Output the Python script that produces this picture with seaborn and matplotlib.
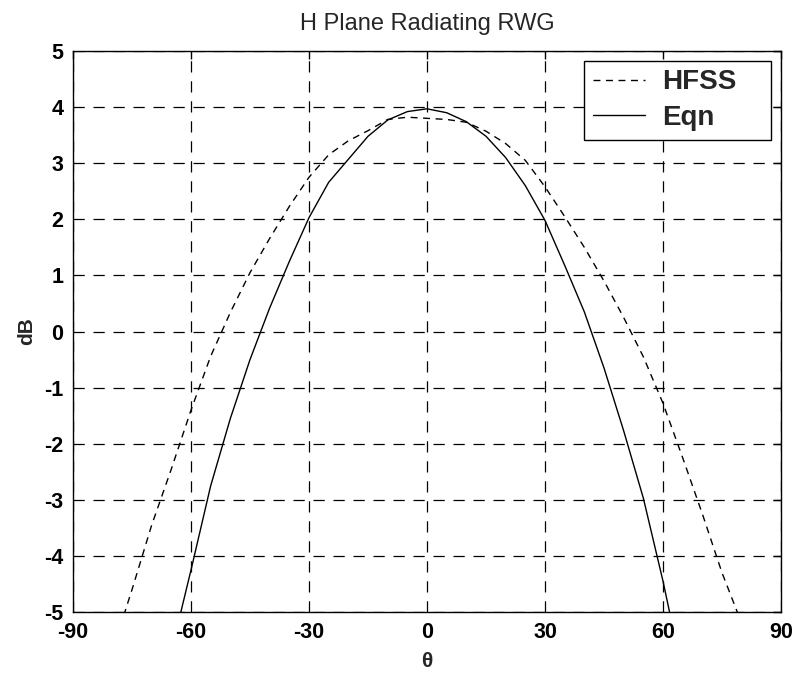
import numpy as np
import matplotlib
matplotlib.use("Agg")
import matplotlib.pyplot as plt
import pandas as pd
import seaborn as sns

# values (theta in degrees, gain in dB)
theta_hfss = [-80, -75, -70, -65, -60, -55, -50, -45, -40, -35, -30, -25, -20, -15, -10, -5,
              0, 5, 10, 15, 20, 25, 30, 35, 40, 45, 50, 55, 60, 65, 70, 75, 80]
db_hfss = [-5.7, -4.6, -3.45, -2.45, -1.4, -0.44, 0.34, 1.05, 1.66, 2.23, 2.75, 3.15, 3.4, 3.58, 3.78, 3.82,
           3.8, 3.78, 3.73, 3.57, 3.35, 3.05, 2.58, 2.05, 1.5, 0.9, 0.25, -0.45, -1.28, -2.25, -3.25, -4.3, -5.2]

theta_eqn = [-65, -60, -55, -50, -45, -40, -35, -30, -25, -20, -15, -10, -5,
             0, 5, 10, 15, 20, 25, 30, 35, 40, 45, 50, 55, 60, 65]
db_eqn = [-5.7, -4.25, -2.75, -1.55, -0.5, 0.42, 1.25, 2.03, 2.66, 3.07, 3.48, 3.77, 3.92,
          3.97, 3.9, 3.74, 3.48, 3.1, 2.6, 1.98, 1.18, 0.35, -0.65, -1.77, -2.97, -4.45, -6.1]

x_ticks = [-90, -60, -30, 0, 30, 60, 90]
y_ticks = [-5, -4, -3, -2, -1, 0, 1, 2, 3, 4, 5]

df_hfss = pd.DataFrame({'theta': theta_hfss, 'dB': db_hfss})
df_eqn = pd.DataFrame({'theta': theta_eqn, 'dB': db_eqn})

sns.set_style('white')
plt.rcParams['font.family'] = ['Liberation Sans', 'DejaVu Sans']
plt.rcParams['axes.unicode_minus'] = False

fig = plt.figure(figsize=(7.98, 6.73), dpi=100)
ax = fig.add_axes([0.0915, 0.0906, 0.8872, 0.8336])

sns.lineplot(data=df_hfss, x='theta', y='dB', ax=ax, color='black', lw=1.0,
             linestyle=(0, (5, 4)), label='HFSS', sort=False)
sns.lineplot(data=df_eqn, x='theta', y='dB', ax=ax, color='black', lw=1.0,
             linestyle='-', label='Eqn', sort=False)

ax.set_xlim(-90, 90)
ax.set_ylim(-5, 5)
ax.set_xticks(x_ticks)
ax.set_yticks(y_ticks)
ax.grid(True, color='black', linestyle=(0, (9, 7)), lw=0.9)
ax.set_axisbelow(True)
for s in ax.spines.values():
    s.set_color('black')
    s.set_linewidth(1.0)
ax.tick_params(direction='in', length=6, width=1, top=True, right=True,
               labelsize=15.5, pad=7, colors='black')
for lab in ax.get_xticklabels() + ax.get_yticklabels():
    lab.set_fontweight('bold')

ax.set_title('H Plane Radiating RWG', fontsize=17, pad=15)
ax.set_xlabel('θ', fontsize=15, labelpad=7, fontweight='bold')
ax.set_ylabel('dB', fontsize=15, labelpad=6, fontweight='bold')

# legend box stretched to the width seen in the reference
leg = ax.legend(loc='upper left', bbox_to_anchor=(0.722, 0.845, 0.264, 0.137),
                mode='expand', borderaxespad=0, frameon=True, fancybox=False,
                prop={'size': 20, 'weight': 'bold'},
                edgecolor='black', framealpha=1, handlelength=1.9, handletextpad=0.6,
                borderpad=0.3, labelspacing=0.35)
leg.get_frame().set_linewidth(1.0)

fig.savefig('out.png', dpi=100, facecolor='white')
